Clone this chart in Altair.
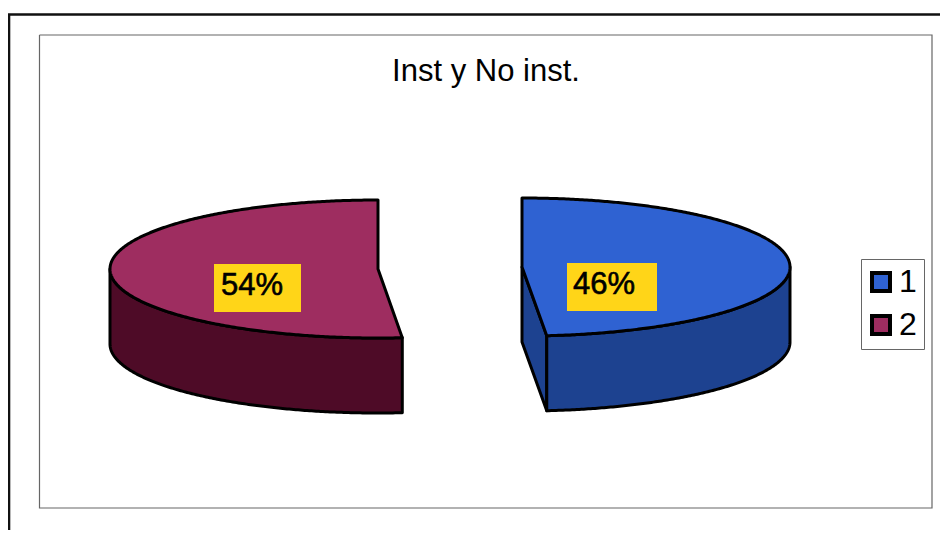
import math
import altair as alt

# values
categories = ["1", "2"]
shares = [46, 54]
labels = ["46%", "54%"]
# sweep each slice visibly takes on the drawn ellipse (degrees)
drawn_sweep = [174.7, 185.2]
top_colors = ["#2F62D2", "#9E2D60"]
wall_colors = ["#1D4290", "#4E0B27"]
title_text = "Inst y No inst."

# layout, page pixels
OFF = 8
W, H = 932, 522
RX, RY, DEPTH = 268, 69, 75
centers = {"1": (522, 267), "2": (378, 269)}
direction = {"1": 1, "2": -1}
label_boxes = {"1": (567, 263, 657, 311), "2": (214, 264, 301, 312)}
label_pos = {"1": (604, 285), "2": (252, 286)}
title_pos = (486, 72)


def P(x, y):
    return [x - OFF, y - OFF]


def feature(points, **props):
    ring = points + [points[0]]
    return {"type": "Feature", "properties": props,
            "geometry": {"type": "Polygon", "coordinates": [ring]}}


def arc_point(cat, deg, drop=0):
    cx, cy = centers[cat]
    t = math.radians(deg)
    return P(cx + direction[cat] * RX * math.sin(t), cy - RY * math.cos(t) + drop)


def arc(cat, start, stop, drop=0):
    n = int(abs(stop - start) * 2)
    return [arc_point(cat, start + (stop - start) * i / n, drop) for i in range(n + 1)]


tops, walls, yellow, texts = [], [], [], []
for cat, share, sweep, lab, wall in zip(categories, shares, drawn_sweep, labels, wall_colors):
    cx, cy = centers[cat]
    tops.append(feature([P(cx, cy)] + arc(cat, 0, sweep), cat=cat, share=share))
    low = arc(cat, 90, sweep)
    high = arc(cat, 90, sweep, DEPTH)
    if cat == "1":
        end, end_low = arc_point(cat, sweep), arc_point(cat, sweep, DEPTH)
        walls.append(feature([P(cx, cy), end, end_low, P(cx, cy + DEPTH)], wall=wall))
    walls.append(feature(low + high[::-1], wall=wall))
    x0, y0, x1, y1 = label_boxes[cat]
    yellow.append(feature([P(x0, y0), P(x1, y0), P(x1, y1), P(x0, y1)]))
    tx, ty = label_pos[cat]
    px, py = P(tx, ty)
    texts.append({"lon": px, "lat": py, "text": lab})

proj = dict(type="identity", scale=1, translate=[0, 0])


def frame(points, color, width):
    line = {"type": "Feature", "properties": {},
            "geometry": {"type": "LineString", "coordinates": points}}
    return (alt.Chart(alt.Data(values=[line]))
            .mark_geoshape(filled=False, stroke=color, strokeWidth=width)
            .project(**proj))


outer = frame([P(9, 530), P(9, 14.5), P(940, 14.5)], "#111111", 2.6)
inner = frame([P(39.5, 35), P(932, 35), P(932, 508), P(39.5, 508), P(39.5, 35)], "#666666", 1.2)

wall_layer = (alt.Chart(alt.Data(values=walls))
              .mark_geoshape(stroke="#000000", strokeWidth=3, strokeJoin="round")
              .encode(fill=alt.Fill("properties.wall:N", scale=None))
              .project(**proj))

top_layer = (alt.Chart(alt.Data(values=tops))
             .mark_geoshape(stroke="#000000", strokeWidth=3, strokeJoin="round")
             .encode(fill=alt.Fill(
                 "properties.cat:N",
                 scale=alt.Scale(domain=categories, range=top_colors),
                 legend=alt.Legend(
                     title=None, orient="none", legendX=853, legendY=251,
                     padding=7, strokeColor="#666666", symbolType="square",
                     symbolSize=324, symbolStrokeColor="#000000", symbolStrokeWidth=4,
                     symbolOffset=-3,
                     labelFontSize=32, labelFont="Liberation Sans", labelColor="#000000",
                     labelOffset=2, rowPadding=9)))
             .project(**proj))

box_layer = (alt.Chart(alt.Data(values=yellow))
             .mark_geoshape(fill="#FFD518", strokeWidth=0)
             .project(**proj))

text_layer = (alt.Chart(alt.Data(values=texts))
              .mark_text(font="Liberation Sans", fontSize=31, color="#000000",
                         align="center", baseline="middle",
                         stroke="#000000", strokeWidth=0.6)
              .encode(longitude="lon:Q", latitude="lat:Q", text="text:N")
              .project(**proj))

tx, ty = P(*title_pos)
title_layer = (alt.Chart(alt.Data(values=[{"lon": tx, "lat": ty, "text": title_text}]))
               .mark_text(font="Liberation Sans", fontSize=31, color="#000000",
                          align="center", baseline="middle")
               .encode(longitude="lon:Q", latitude="lat:Q", text="text:N")
               .project(**proj))

chart = (alt.layer(outer, inner, wall_layer, top_layer, box_layer, text_layer, title_layer)
         .properties(
             width=W, height=H, padding=0, autosize=alt.AutoSizeParams(type="none"),
             background="#FFFFFF")
         .configure_view(stroke=None))

chart.save("out.html", embed_options={"renderer": "svg", "actions": False})
